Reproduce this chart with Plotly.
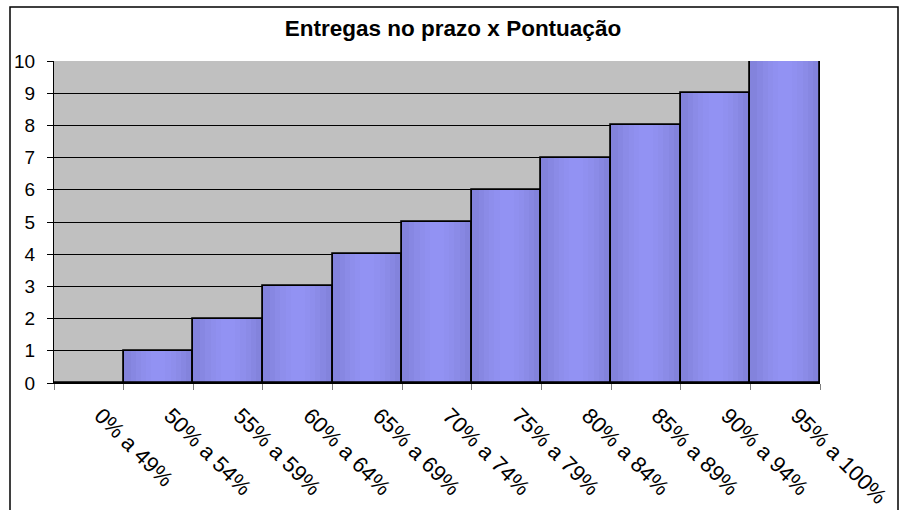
import plotly.graph_objects as go

categories = ["0% a 49%", "50% a 54%", "55% a 59%", "60% a 64%", "65% a 69%",
              "70% a 74%", "75% a 79%", "80% a 84%", "85% a 89%", "90% a 94%", "95% a 100%"]
values = [0, 1, 2, 3, 4, 5, 6, 7, 8, 9, 10]

FONT = "Arial, Liberation Sans, sans-serif"

fig = go.Figure()
# base fill
fig.add_trace(go.Bar(x=categories, y=values, width=1.0,
                     marker=dict(color="#8383DC", line=dict(width=0)), hoverinfo="skip"))
# soft highlight layers (gradient imitation)
for w, op in [(0.8, 0.18), (0.65, 0.2), (0.5, 0.22), (0.35, 0.22), (0.2, 0.2)]:
    fig.add_trace(go.Bar(x=categories, y=values, width=w,
                         marker=dict(color="#9C9CFF", opacity=op, line=dict(width=0)),
                         hoverinfo="skip"))
# outline
fig.add_trace(go.Bar(x=categories, y=values, width=1.0,
                     marker=dict(color="rgba(0,0,0,0)", line=dict(color="black", width=1.8))))

L, R, T, B = 54, 84, 61, 127
W, H = 904, 510
pw, ph = W - L - R, H - T - B

fig.update_layout(
    width=W, height=H,
    margin=dict(l=L, r=R, t=T, b=B, autoexpand=False),
    barmode="overlay", bargap=0,
    showlegend=False,
    paper_bgcolor="white", plot_bgcolor="#C0C0C0",
    font=dict(family=FONT, size=19, color="black"),
    title=dict(text="<b>Entregas no prazo x Pontuação</b>", x=(453 - L) / pw, xref="paper",
               y=1 - 28 / H, yanchor="middle", xanchor="center",
               font=dict(family=FONT, size=22.5, color="black")),
    xaxis=dict(type="category", tickangle=45, ticks="outside", tickson="boundaries",
               ticklen=6, tickcolor="#808080", showgrid=False, showline=True,
               linecolor="black", linewidth=1, ticklabelstandoff=10, ticklabelshift=12,
               automargin=False, tickfont=dict(size=22)),
    yaxis=dict(range=[0, 10], dtick=1, ticks="outside", ticklen=6, tickcolor="black",
               showgrid=True, gridcolor="black", gridwidth=1, showline=True,
               linecolor="black", linewidth=1, zeroline=False, automargin=False,
               ticklabelstandoff=8, tickfont=dict(size=19)),
    shapes=[dict(type="rect", xref="paper", yref="paper",
                 x0=(10 - L) / pw, x1=(898 - L) / pw,
                 y0=-(B + 20) / ph, y1=1 + (T - 7) / ph,
                 line=dict(color="black", width=1.5), fillcolor="rgba(0,0,0,0)", layer="above")],
)

fig.write_html("out.html", config={"displayModeBar": False},
               post_script="document.body.style.margin='0';document.body.style.overflow='hidden';")
